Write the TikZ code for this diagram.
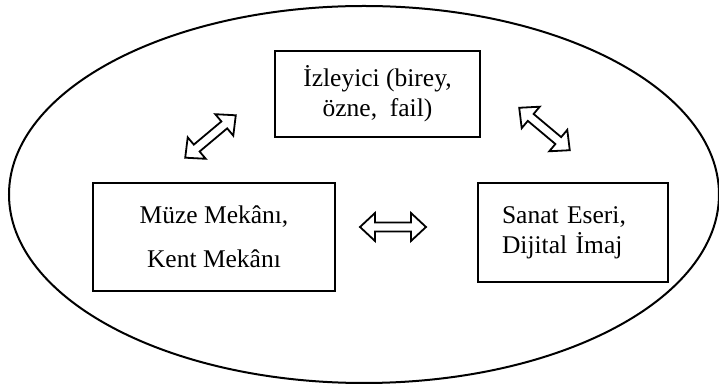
\documentclass[tikz,border=0pt]{standalone}
\usepackage{fontspec}
\setmainfont{Liberation Serif}

\tikzset{
  box/.style={draw, line width=1.1pt, inner sep=0pt, font=\fontsize{12.75}{15}\selectfont},
  arrowline/.style={draw, line width=0.9pt, line join=miter}
}

% hollow double arrow: #1 centre, #2 angle
\newcommand{\dblarrow}[2]{
\begin{scope}[shift={#1}, rotate=#2]
\draw[arrowline] (-33,0) -- (-18,14) -- (-18,4.5) -- (18,4.5) -- (18,14) -- (33,0)
  -- (18,-14) -- (18,-4.5) -- (-18,-4.5) -- (-18,-14) -- cycle ;
\end{scope}
}

\begin{document}
\begin{tikzpicture}[x=0.5pt, y=0.5pt]
\useasboundingbox (0,0) rectangle (719,385) ;

\draw[line width=1pt] (364,190.5) ellipse [x radius=355, y radius=188.5] ;

\node[box, minimum width=102.5pt, minimum height=43pt, align=center] (izleyici) at (377.5,291)
  {İzleyici (birey,\\özne,~ fail)} ;

\node[box, minimum width=121pt, minimum height=54pt, align=center,
  font=\fontsize{12.75}{22}\selectfont] (mekan) at (214,148)
  {Müze Mekânı,\\Kent Mekânı} ;

\node[box, text width=71pt, inner xsep=12pt, minimum height=49.5pt, align=left] (eser) at (573,152.5)
  {Sanat Eseri,\\Dijital İmaj} ;

\coordinate (solok) at (210.5,248.5) ;
\coordinate (sagok) at (544.5,256) ;
\coordinate (altok) at (393,158) ;

\dblarrow{(solok)}{40}
\dblarrow{(sagok)}{-40}
\dblarrow{(altok)}{0}
\end{tikzpicture}
\end{document}
